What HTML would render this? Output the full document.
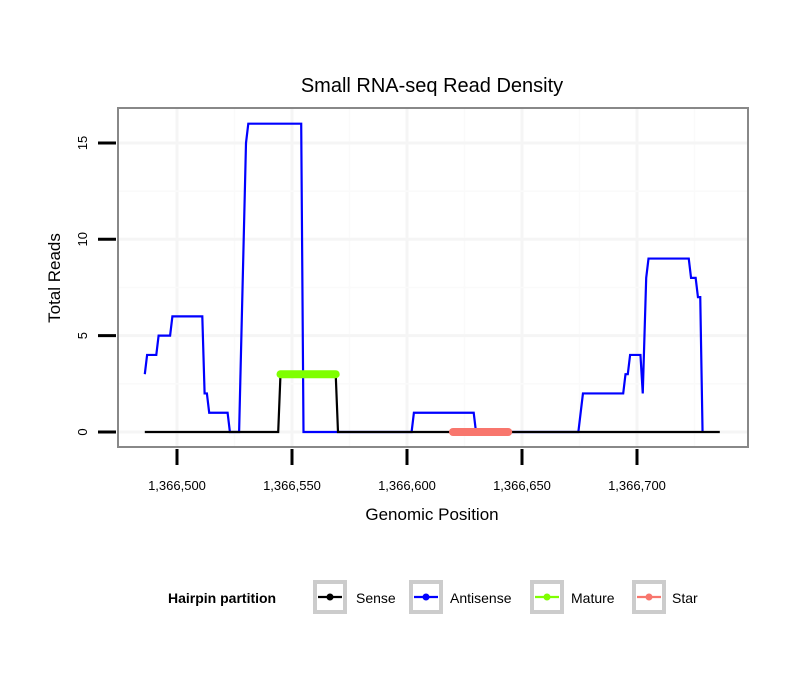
<!DOCTYPE html>
<html><head><meta charset="utf-8"><style>
body{margin:0;background:#fff;}
svg text{font-family:"Liberation Sans",sans-serif;}
</style></head><body>
<svg id="chart" width="810" height="690" xmlns="http://www.w3.org/2000/svg">
<rect width="810" height="690" fill="#fff"/>
<text x="432" y="92" font-size="20" text-anchor="middle">Small RNA-seq Read Density</text>
<g id="grid"></g>
<g id="series"></g>
<rect x="118" y="108" width="630" height="339" fill="none" stroke="#888" stroke-width="2"/>
<g id="axes"></g>
<text x="432" y="520" font-size="17" text-anchor="middle">Genomic Position</text>
<text transform="translate(60,278) rotate(-90)" font-size="17" text-anchor="middle">Total Reads</text>
<g id="legend">
<text x="168" y="603" font-size="14" font-weight="bold">Hairpin partition</text>
</g>
</svg>
<script>
const xTicks=[1366500,1366550,1366600,1366650,1366700];
const xTickLabels=["1,366,500","1,366,550","1,366,600","1,366,650","1,366,700"];
const yTicks=[0,5,10,15];
const yTickLabels=["0","5","10","15"];
const senseX=[1366486,1366544,1366545,1366569,1366570,1366736];
const senseY=[0,0,3,3,0,0];
const antiX=[1366486,1366487,1366491,1366492,1366497,1366498,1366511,1366512,1366513,1366514,1366522,1366523,1366527,1366530,1366531,1366554,1366555,1366602,1366603,1366629,1366630,1366674.5,1366676.5,1366694,1366695,1366696,1366697,1366701.5,1366702.5,1366704,1366705,1366722.5,1366723.5,1366725.5,1366726.5,1366727.5,1366728.5];
const antiY=[3,4,4,5,5,6,6,2,2,1,1,0,0,15,16,16,0,0,1,1,0,0,2,2,3,3,4,4,2,8,9,9,8,8,7,7,0];
const matureRange=[1366545,1366569];const matureY=3;
const starRange=[1366620,1366644];const starY=0;
const legendNames=["Sense","Antisense","Mature","Star"];
const legendColors=["#000","#0000ff","#7fff00","#f8766d"];

const X=v=>177+(v-1366500)*2.3;
const Y=v=>432-v*19.27;
const NS="http://www.w3.org/2000/svg";
function mk(t,a,p){const e=document.createElementNS(NS,t);for(const k in a)e.setAttribute(k,a[k]);p.appendChild(e);return e;}
const grid=document.getElementById('grid'),ser=document.getElementById('series'),axes=document.getElementById('axes'),leg=document.getElementById('legend');
xTicks.forEach((t,i)=>{const g=mk('line',{x1:X(t),x2:X(t),y1:109,y2:446,stroke:'#f5f5f5','stroke-width':3},grid);


const m=mk('line',{x1:X(t+25),x2:X(t+25),y1:109,y2:446,stroke:'#fafafa','stroke-width':1.5},grid);

});
yTicks.forEach(t=>{const g=mk('line',{x1:119,x2:747,y1:Y(t),y2:Y(t),stroke:'#f5f5f5','stroke-width':3},grid);


if(t<15){const m=mk('line',{x1:119,x2:747,y1:Y(t+2.5),y2:Y(t+2.5),stroke:'#fafafa','stroke-width':1.5},grid);

}});
function pts(xs,ys){return xs.map((x,i)=>X(x)+','+Y(ys[i])).join(' ');}
const a=mk('polyline',{points:pts(antiX,antiY),fill:'none',stroke:'#0000ff','stroke-width':2.2},ser);


const s=mk('polyline',{points:pts(senseX,senseY),fill:'none',stroke:'#000','stroke-width':2.2},ser);


const mt=mk('line',{x1:X(matureRange[0]),x2:X(matureRange[1]),y1:Y(matureY),y2:Y(matureY),stroke:'#7fff00','stroke-width':8,'stroke-linecap':'round'},ser);


const st=mk('line',{x1:X(starRange[0]),x2:X(starRange[1]),y1:Y(starY),y2:Y(starY),stroke:'#f8766d','stroke-width':8,'stroke-linecap':'round'},ser);


xTicks.forEach((t,i)=>{const l=mk('line',{x1:X(t),x2:X(t),y1:449,y2:465,stroke:'#000','stroke-width':3},axes);


const tx=mk('text',{x:X(t),y:490,'font-size':13,'text-anchor':'middle'},axes);tx.textContent=xTickLabels[i];

});
yTicks.forEach((t,i)=>{const l=mk('line',{x1:98,x2:116,y1:Y(t),y2:Y(t),stroke:'#000','stroke-width':3},axes);


const tx=mk('text',{transform:`translate(87,${Y(t)}) rotate(-90)`,'font-size':13,'text-anchor':'middle'},axes);tx.textContent=yTickLabels[i];

});
const bx=[313,409,530,632],tx=[356,450,571,672];
legendNames.forEach((n,i)=>{const r=mk('rect',{x:bx[i]+2,y:582,width:30,height:30,fill:'#fff',stroke:'#ccc','stroke-width':4},leg);


mk('line',{x1:bx[i]+5,x2:bx[i]+29,y1:597,y2:597,stroke:legendColors[i],'stroke-width':2.2},leg);
mk('circle',{cx:bx[i]+17,cy:597,r:3.5,fill:legendColors[i]},leg);
const t=mk('text',{x:tx[i],y:603,'font-size':14},leg);t.textContent=n;

});
</script>
</body></html>
